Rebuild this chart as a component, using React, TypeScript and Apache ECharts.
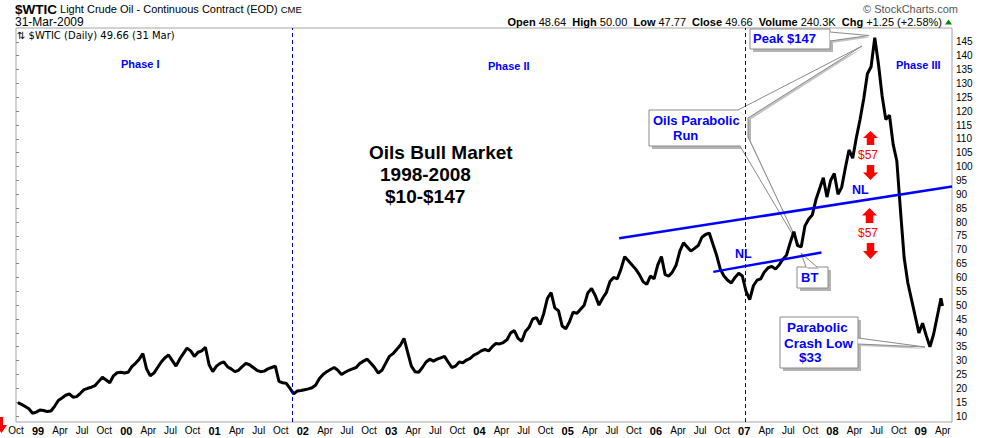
import { useEffect, useRef } from 'react';
import * as echarts from 'echarts';

// Light crude, two closes per month (first half / second half)
const p1998 = [14.8, 14.2, 13.4, 12.6, 11.0, 11.4]; // Oct-Dec
const p1999 = [12.2, 12.0, 11.6, 11.8, 13.5, 15.6, 16.5, 17.5, 18.0, 16.8, 17.0, 18.2,
  19.5, 20.0, 20.4, 21.0, 22.5, 24.0, 23.0, 22.0, 24.5, 25.6, 25.8, 25.5];
const p2000 = [25.8, 27.8, 29.0, 30.5, 32.5, 27.0, 24.5, 25.5, 27.5, 29.5, 31.0, 32.0,
  30.0, 28.0, 30.5, 32.5, 34.5, 33.5, 31.5, 33.0, 33.5, 34.8, 28.5, 26.0];
const p2001 = [28.0, 29.0, 29.5, 27.8, 27.0, 26.0, 26.5, 27.8, 29.0, 28.5, 27.5, 26.5,
  26.0, 26.2, 27.0, 27.5, 28.0, 22.5, 22.0, 21.8, 20.0, 18.0, 19.0, 19.2];
const p2002 = [19.5, 19.8, 20.2, 21.2, 23.5, 25.0, 26.0, 26.8, 27.5, 26.5, 25.0, 25.8,
  26.5, 27.0, 27.5, 29.0, 29.8, 30.5, 29.0, 27.5, 25.5, 26.5, 29.0, 31.5];
const p2003 = [32.5, 34.0, 35.5, 38.0, 33.0, 28.0, 26.0, 25.8, 27.5, 29.5, 30.5, 29.8,
  30.5, 31.0, 31.5, 29.5, 27.5, 28.0, 29.5, 29.2, 30.2, 30.8, 32.0, 32.6];
const p2004 = [33.5, 34.0, 33.5, 35.0, 36.2, 36.0, 36.5, 37.5, 40.0, 40.8, 38.0, 37.0,
  40.5, 42.0, 45.0, 45.5, 43.0, 47.0, 52.5, 54.5, 49.0, 48.0, 42.5, 41.5];
const p2005 = [44.0, 47.5, 47.0, 48.5, 50.0, 54.5, 56.0, 53.5, 50.0, 52.5, 54.5, 58.5,
  60.0, 59.5, 63.0, 67.5, 66.0, 64.5, 63.0, 61.0, 58.5, 57.5, 60.5, 59.5];
const p2006 = [64.5, 67.5, 61.0, 60.5, 62.0, 64.5, 69.5, 72.5, 71.0, 69.5, 70.5, 71.5,
  74.5, 75.5, 76.0, 72.0, 68.0, 63.0, 60.5, 59.0, 58.0, 60.0, 61.5, 60.5];
const p2007 = [55.0, 52.0, 57.0, 59.0, 59.5, 62.0, 63.5, 64.0, 63.0, 64.5, 66.5, 68.0,
  72.5, 76.5, 71.5, 71.0, 78.5, 81.0, 82.5, 88.0, 92.0, 96.0, 89.0, 95.0];
const p2008 = [97.5, 90.0, 92.5, 99.5, 106.0, 103.0, 110.5, 117.0, 124.5, 133.5, 136.0, 146.5,
  137.0, 125.5, 117.0, 118.5, 108.0, 102.0, 84.0, 67.0, 58.0, 52.0, 46.0, 40.0];
const p2009 = [43.5, 39.0, 35.0, 39.5, 46.0, 52.5]; // Jan-Mar
const lastClose = 49.66;

// x axis counts months from Oct 1998
const monthNames = ['Jan', 'Feb', 'Mar', 'Apr', 'May', 'Jun', 'Jul', 'Aug', 'Sep', 'Oct', 'Nov', 'Dec'];
const yTicks = [10, 15, 20, 25, 30, 35, 40, 45, 50, 55, 60, 65, 70, 75, 80, 85, 90, 95,
  100, 105, 110, 115, 120, 125, 130, 135, 140, 145];

// neckline trend lines and phase dividers, in [month, price]
const necklineLong = [[82.0, 74.1], [127.25, 92.8]];
const necklineShort = [[94.8, 62.0], [109.5, 69.0]];
const phaseDividers = [37.6, 99.1];

const BLUE = '#0000ff';
const FONT = '"Liberation Sans", Arial, sans-serif';

function box(x: number, y: number, w: number, h: number) {
  return [
    { type: 'rect', shape: { x: x + 3, y: y + 3, width: w, height: h }, style: { fill: '#b4b4b4' } },
    { type: 'rect', shape: { x, y, width: w, height: h }, style: { fill: '#fff', stroke: '#8a8a8a', lineWidth: 1 } },
  ];
}

function wedge(a: number[], b: number[], tip: number[]) {
  return [
    { type: 'polygon', shape: { points: [[a[0] + 2, a[1] + 2], [b[0] + 2, b[1] + 2], [tip[0] + 1, tip[1] + 2]] }, style: { fill: '#c4c4c4' } },
    { type: 'polygon', shape: { points: [a, b, tip] }, style: { fill: '#fff' } },
    { type: 'polyline', shape: { points: [a, tip, b] }, style: { stroke: '#8a8a8a', lineWidth: 1, fill: 'none' } },
  ];
}

function label(text: string, x: number, y: number, size: number, color = BLUE, bold = true) {
  return {
    type: 'text',
    style: {
      text, x, y, fill: color,
      font: `${bold ? 'bold ' : ''}${size}px ${FONT}`,
      textVerticalAlign: 'middle', verticalAlign: 'middle',
    },
  };
}

function arrow(x0: number, x1: number, y0: number, y1: number, up: boolean) {
  const mid = (y0 + y1) / 2;
  const sx0 = x0 + (x1 - x0) * 0.25;
  const sx1 = x1 - (x1 - x0) * 0.25;
  const xc = (x0 + x1) / 2;
  const pts = up
    ? [[xc, y0], [x1, mid], [sx1, mid], [sx1, y1], [sx0, y1], [sx0, mid], [x0, mid]]
    : [[xc, y1], [x1, mid], [sx1, mid], [sx1, y0], [sx0, y0], [sx0, mid], [x0, mid]];
  return { type: 'polygon', shape: { points: pts }, style: { fill: '#ff0000' } };
}

export default function App() {
  const ref = useRef<HTMLDivElement>(null);

  useEffect(() => {
    if (!ref.current) return;
    document.body.style.margin = '0';
    const chart = echarts.init(ref.current, null, { renderer: 'svg' });

    const closes = [...p1998, ...p1999, ...p2000, ...p2001, ...p2002, ...p2003,
      ...p2004, ...p2005, ...p2006, ...p2007, ...p2008, ...p2009];
    const priceData = closes.map((v, i) => [i * 0.5 + 0.25, v]);
    priceData.push([125.95, lastClose]);

    const graphic: any[] = [
      // header
      {
        type: 'text',
        style: {
          text: '{t|$WTIC} Light Crude Oil - Continuous Contract (EOD) {c|CME}',
          x: 15, y: 9, fill: '#000', font: `11px ${FONT}`,
          textVerticalAlign: 'middle', verticalAlign: 'middle',
          rich: {
            t: { fontSize: 13.5, fontWeight: 'bold', fontFamily: FONT, fill: '#000' },
            c: { fontSize: 9.5, fontFamily: FONT, fill: '#000' },
          },
        },
      },
      label('31-Mar-2009', 15, 22, 12, '#000', false),
      label('\u00a9 StockCharts.com', 863, 9, 11, '#555', false),
      {
        type: 'text',
        style: {
          text: '{b|Open} 48.64  {b|High} 50.00  {b|Low} 47.77  {b|Close} 49.66  {b|Volume} 240.3K  {b|Chg} +1.25 (+2.58%)',
          x: 942, y: 22, fill: '#000', font: `11px ${FONT}`,
          textAlign: 'right', align: 'right',
          textVerticalAlign: 'middle', verticalAlign: 'middle',
          rich: { b: { fontWeight: 'bold', fontSize: 11, fontFamily: FONT, fill: '#000' } },
        },
      },
      { type: 'polygon', shape: { points: [[948.5, 19.5], [952, 24.5], [945, 24.5]] }, style: { fill: '#008a00' } },
      {
        type: 'text',
        style: {
          text: '\u21c5 $WTIC (Daily) 49.66 (31 Mar)', x: 17, y: 35, fill: '#000',
          font: '10px "DejaVu Sans", sans-serif',
          textVerticalAlign: 'middle', verticalAlign: 'middle',
        },
      },
      { type: 'polygon', shape: { points: [[0, 417], [3, 417], [3, 425], [7, 425], [1.5, 433], [0, 431]] }, style: { fill: '#ff0000' } },

      // phase labels and title
      label('Phase I', 121, 64, 11),
      label('Phase II', 488, 66, 11),
      label('Phase III', 896, 65, 11),
      label('Oils Bull Market', 369, 152, 19, '#000'),
      label('1998-2008', 380, 174, 19, '#000'),
      label('$10-$147', 385, 196, 19, '#000'),
      label('NL', 735, 254, 12.5),
      label('NL', 852, 190, 12.5),

      // callout boxes
      ...box(750, 29, 80, 20),
      ...box(649, 110, 99, 36),
      ...box(797, 267, 31, 21),
      ...box(780, 317, 78, 51),
      ...wedge([830, 32], [830, 41], [869, 35.5]),
      ...wedge([738, 110], [748, 118], [862, 46]),
      ...wedge([740, 146], [748, 137], [800, 247]),
      ...wedge([806, 267], [817, 267], [801, 253]),
      ...wedge([858, 338], [858, 344], [925, 347]),
      label('Peak $147', 753, 38.5, 13),
      label('Oils Parabolic', 653, 120, 13),
      label('Run', 673, 135.5, 13),
      label('BT', 801, 277.5, 13),
      label('Parabolic', 787, 327.5, 13.5),
      label('Crash Low', 784, 343, 13.5),
      label('$33', 799, 357, 13.5),

      // red $57 arrows
      arrow(863, 878, 131, 145, true),
      label('$57', 858, 155, 12, '#ff0000', false),
      arrow(863, 878, 165, 180, false),
      arrow(862, 877, 208, 223, true),
      label('$57', 858, 232.5, 12, '#ff0000', false),
      arrow(863, 878, 243, 259, false),
    ];

    const option: any = {
      animation: false,
      backgroundColor: '#fff',
      grid: {
        left: 16, right: 38, top: 28, bottom: 16,
        show: true, borderColor: '#a4a4a4', borderWidth: 1, backgroundColor: 'transparent',
      },
      xAxis: {
        type: 'value',
        min: 0,
        max: 127.25,
        interval: 3,
        axisLine: { show: false },
        axisTick: { show: false },
        splitLine: { show: false },
        axisLabel: {
          margin: 3,
          color: '#000',
          fontSize: 10,
          fontFamily: FONT,
          formatter: (v: number) => {
            const k = Math.round(v) + 9;
            const mon = k % 12;
            const yr = 1998 + Math.floor(k / 12);
            if (mon === 0) return `{y|${String(yr).slice(2)}}`;
            return monthNames[mon];
          },
          rich: { y: { fontWeight: 'bold', fontSize: 11, fontFamily: FONT, color: '#000' } },
        },
      },
      yAxis: {
        type: 'value',
        position: 'right',
        min: 7.84,
        max: 150,
        axisLine: { show: false },
        splitLine: { show: false },
        axisTick: { show: true, length: 3, customValues: yTicks, lineStyle: { color: '#888' } },
        axisLabel: { margin: 4, color: '#000', fontSize: 10, fontFamily: FONT, customValues: yTicks },
      },
      graphic,
      series: [
        {
          name: 'WTIC',
          type: 'line',
          data: priceData,
          symbol: 'none',
          lineStyle: { color: '#000', width: 3 },
          z: 3,
          markLine: {
            silent: true,
            symbol: 'none',
            label: { show: false },
            lineStyle: { color: '#0000c8', type: [4, 3], width: 1 },
            data: phaseDividers.map((m) => ({ xAxis: m })),
          },
        },
        {
          name: 'Neckline',
          type: 'line',
          data: [],
          z: 4,
          markLine: {
            silent: true,
            symbol: 'none',
            label: { show: false },
            lineStyle: { color: BLUE, type: 'solid', width: 2.5 },
            data: [
              [{ coord: necklineLong[0] }, { coord: necklineLong[1] }],
              [{ coord: necklineShort[0] }, { coord: necklineShort[1] }],
            ],
          },
        },
      ],
    };

    chart.setOption(option);
    return () => chart.dispose();
  }, []);

  return <div ref={ref} style={{ width: 990, height: 438 }} />;
}
